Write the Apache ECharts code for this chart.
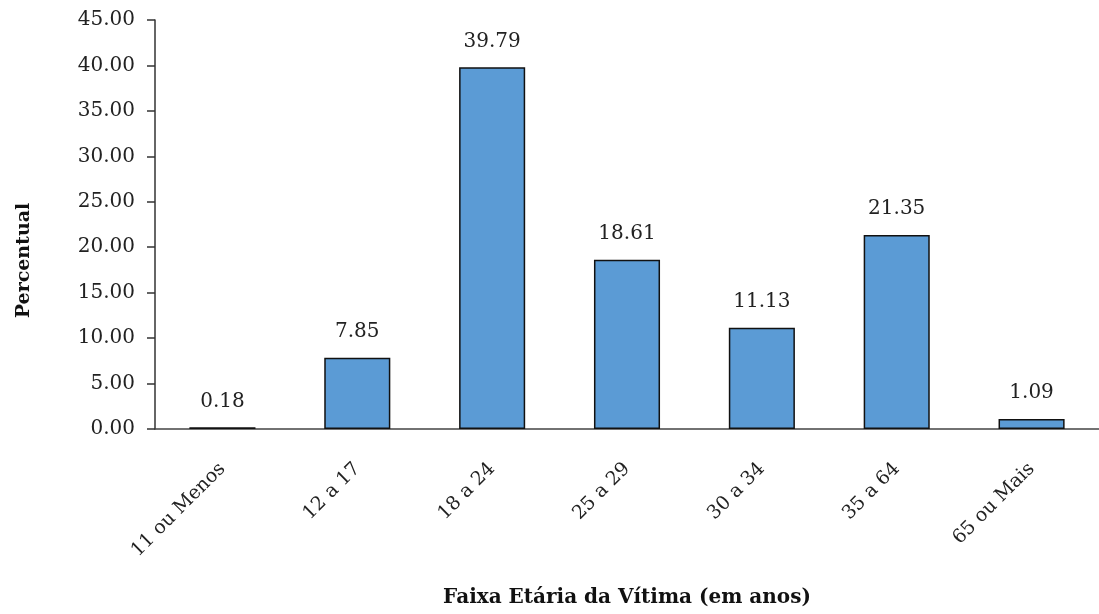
<!DOCTYPE html>
<html>
<head>
<meta charset="utf-8">
<script src="https://cdn.jsdelivr.net/npm/echarts@6/dist/echarts.min.js"></script>
<style>
  html, body { margin: 0; padding: 0; background: #fff; }
  #chart { width: 1099px; height: 614px; }
</style>
</head>
<body>
<div id="chart"></div>
<script>
var categories = ['11 ou Menos', '12 a 17', '18 a 24', '25 a 29', '30 a 34', '35 a 64', '65 ou Mais']
var percentual = [0.18, 7.85, 39.79, 18.61, 11.13, 21.35, 1.09]
var xTitle = 'Faixa Etária da Vítima (em anos)'
var yTitle = 'Percentual'

// wide serif so the text widths match the stretched look of the original
var fontFam = '"DejaVu Serif", "Liberation Serif", serif'
var chart = echarts.init(document.getElementById('chart'))
var option = {
  animation: false,
  textStyle: { fontFamily: fontFam },
  grid: { left: 155, width: 952, top: 20, bottom: 185 },
  xAxis: {
    type: 'category',
    data: categories,
    name: xTitle,
    nameLocation: 'middle',
    nameGap: 159,
    nameTextStyle: { fontFamily: fontFam, fontSize: 20, fontWeight: 'bold', color: '#111' },
    axisTick: { show: false },
    axisLine: { lineStyle: { color: '#444', width: 1.5 } },
    axisLabel: {
      interval: 0,
      rotate: 45,
      margin: 37,
      fontFamily: fontFam,
      fontSize: 19,
      color: '#222'
    }
  },
  yAxis: {
    type: 'value',
    min: 0,
    max: 45,
    interval: 5,
    name: yTitle,
    nameLocation: 'middle',
    nameGap: 121,
    nameTextStyle: { fontFamily: fontFam, fontSize: 19, fontWeight: 'bold', color: '#111', padding: [0, 72, 0, 0] },
    axisLine: { show: true, lineStyle: { color: '#333', width: 1.5 } },
    axisTick: { show: true, length: 8, lineStyle: { color: '#333', width: 1.5 } },
    splitLine: { show: false },
    axisLabel: {
      margin: 20,
      fontFamily: fontFam,
      fontSize: 20,
      color: '#222',
      formatter: function (v) { return v.toFixed(2) }
    }
  },
  series: [
    {
      type: 'bar',
      data: percentual,
      barWidth: '49%',
      itemStyle: {
        color: '#5B9BD5',
        borderColor: '#111',
        borderWidth: 1.5
      },
      label: {
        show: true,
        position: 'top',
        distance: 16,
        fontFamily: fontFam,
        fontSize: 20,
        color: '#222',
        formatter: function (p) { return p.value.toFixed(2) }
      }
    }
  ]
}
option && chart.setOption(option)
</script>
</body>
</html>
